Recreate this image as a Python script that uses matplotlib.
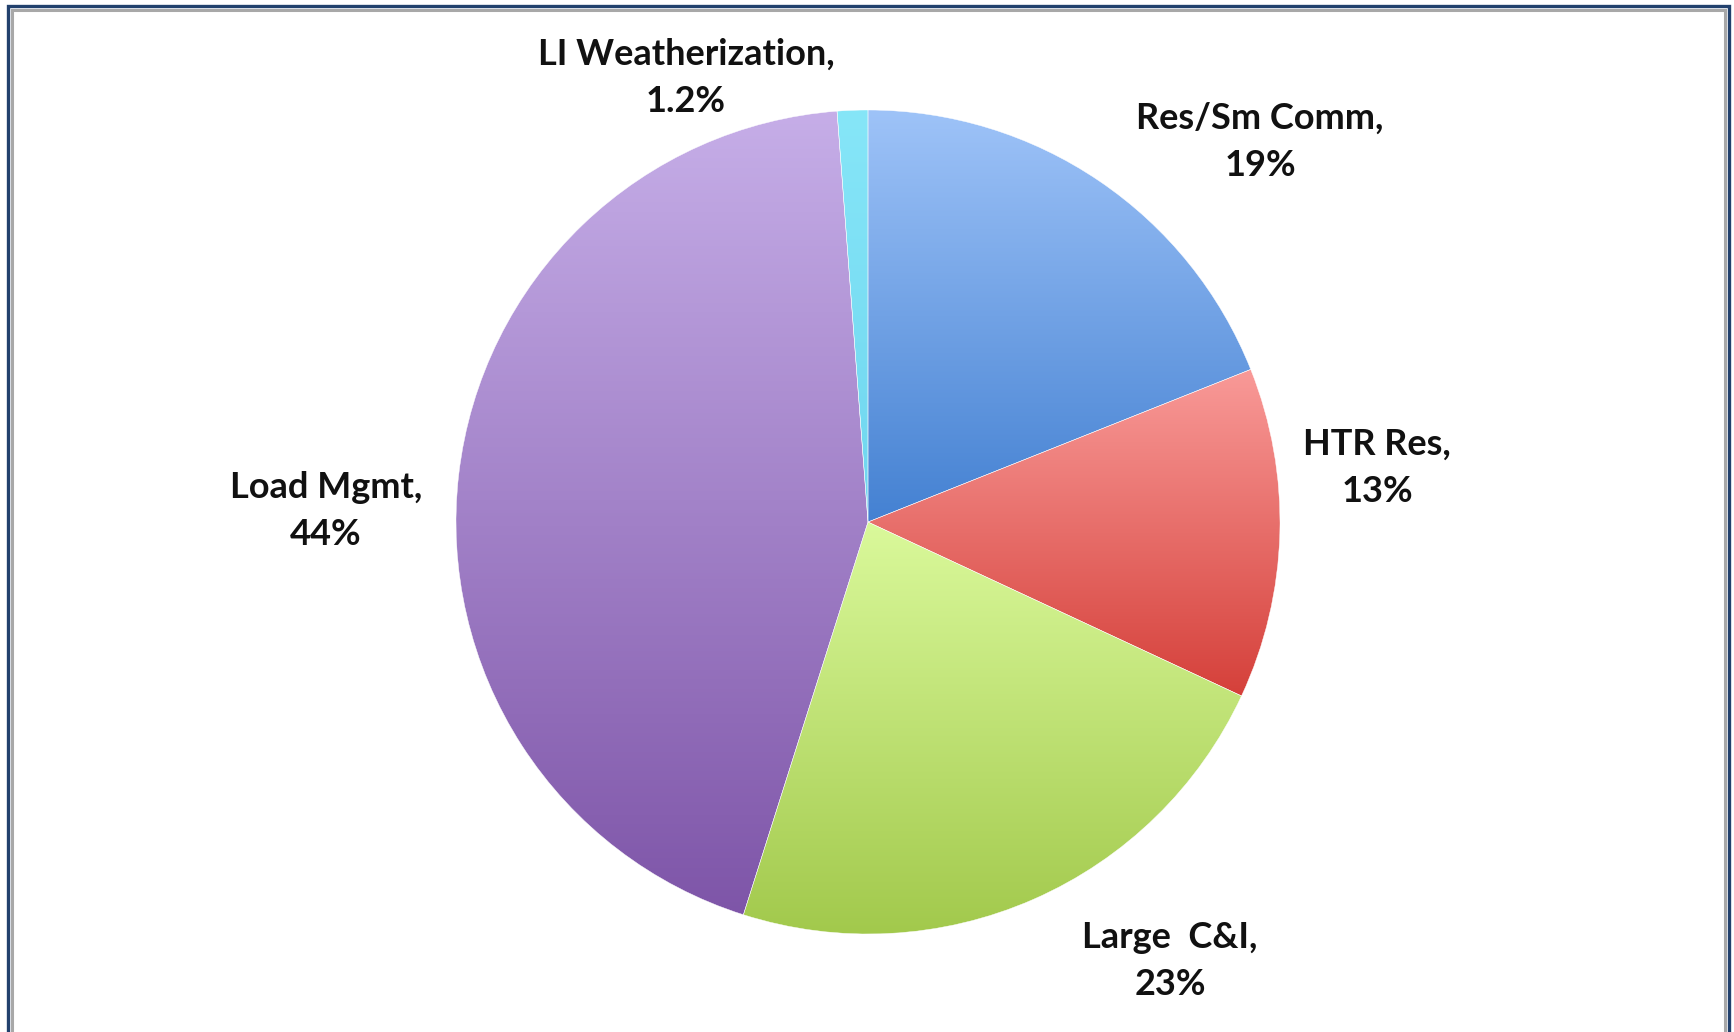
import matplotlib.pyplot as plt
import numpy as np
from matplotlib.colors import LinearSegmentedColormap

labels = ['Res/Sm Comm,\n19%', 'HTR Res,\n13%', 'Large  C&I,\n23%',
          'Load Mgmt,\n44%', 'LI Weatherization,\n1.2%']
values = [19, 13, 23, 44, 1.2]
# gradient colours per slice: top -> bottom
top_colors = ['#9ec3f8', '#f99a98', '#daf99b', '#c6aee8', '#86e6f8']
bottom_colors = ['#4481d2', '#d5403a', '#a2c94c', '#7e55a8', '#6fd6ef']
label_pos = [(1260, 142), (1377, 468), (1170, 961), (326, 511), (686, 78)]

W, H = 1734, 1032
fig = plt.figure(figsize=(W / 100, H / 100), dpi=100)
ax = fig.add_axes([0, 0, 1, 1])

wedges, _ = ax.pie(values, startangle=90, counterclock=False,
                   center=(868, H - 522), radius=412, frame=True,
                   wedgeprops=dict(edgecolor='white', linewidth=0.3))
ax.set_xlim(0, W)
ax.set_ylim(0, H)
ax.set_aspect('equal')
ax.axis('off')

grad = np.linspace(0, 1, 256).reshape(-1, 1)
for w, c1, c2 in zip(wedges, top_colors, bottom_colors):
    ext = w.get_path().get_extents()
    cmap = LinearSegmentedColormap.from_list('g', [c2, c1])
    w.set_facecolor('none')
    im = ax.imshow(grad, cmap=cmap, origin='lower', aspect='auto',
                   extent=[ext.x0, ext.x1, ext.y0, ext.y1], zorder=1)
    im.set_clip_path(w)
    w.set_zorder(2)

for lab, (x, y) in zip(labels, label_pos):
    ax.text(x, H - y, lab, ha='center', va='center', fontsize=26,
            fontweight='bold', family='Lato', color='#111111',
            linespacing=1.5)

ax.set_xlim(0, W)
ax.set_ylim(0, H)

# frame border (dark blue outer, gray inner)
ax.plot([7.5, 7.5, W - 5.5, W - 5.5], [-5, H - 5.5, H - 5.5, -5],
        color='#22416d', lw=2.4, solid_joinstyle='miter', clip_on=False)
ax.plot([11.5, 11.5, W - 9.5, W - 9.5], [-5, H - 10, H - 10, -5],
        color='#a8a8a8', lw=2.2, solid_joinstyle='miter', clip_on=False)

fig.savefig('out.png', dpi=100, facecolor='white')
